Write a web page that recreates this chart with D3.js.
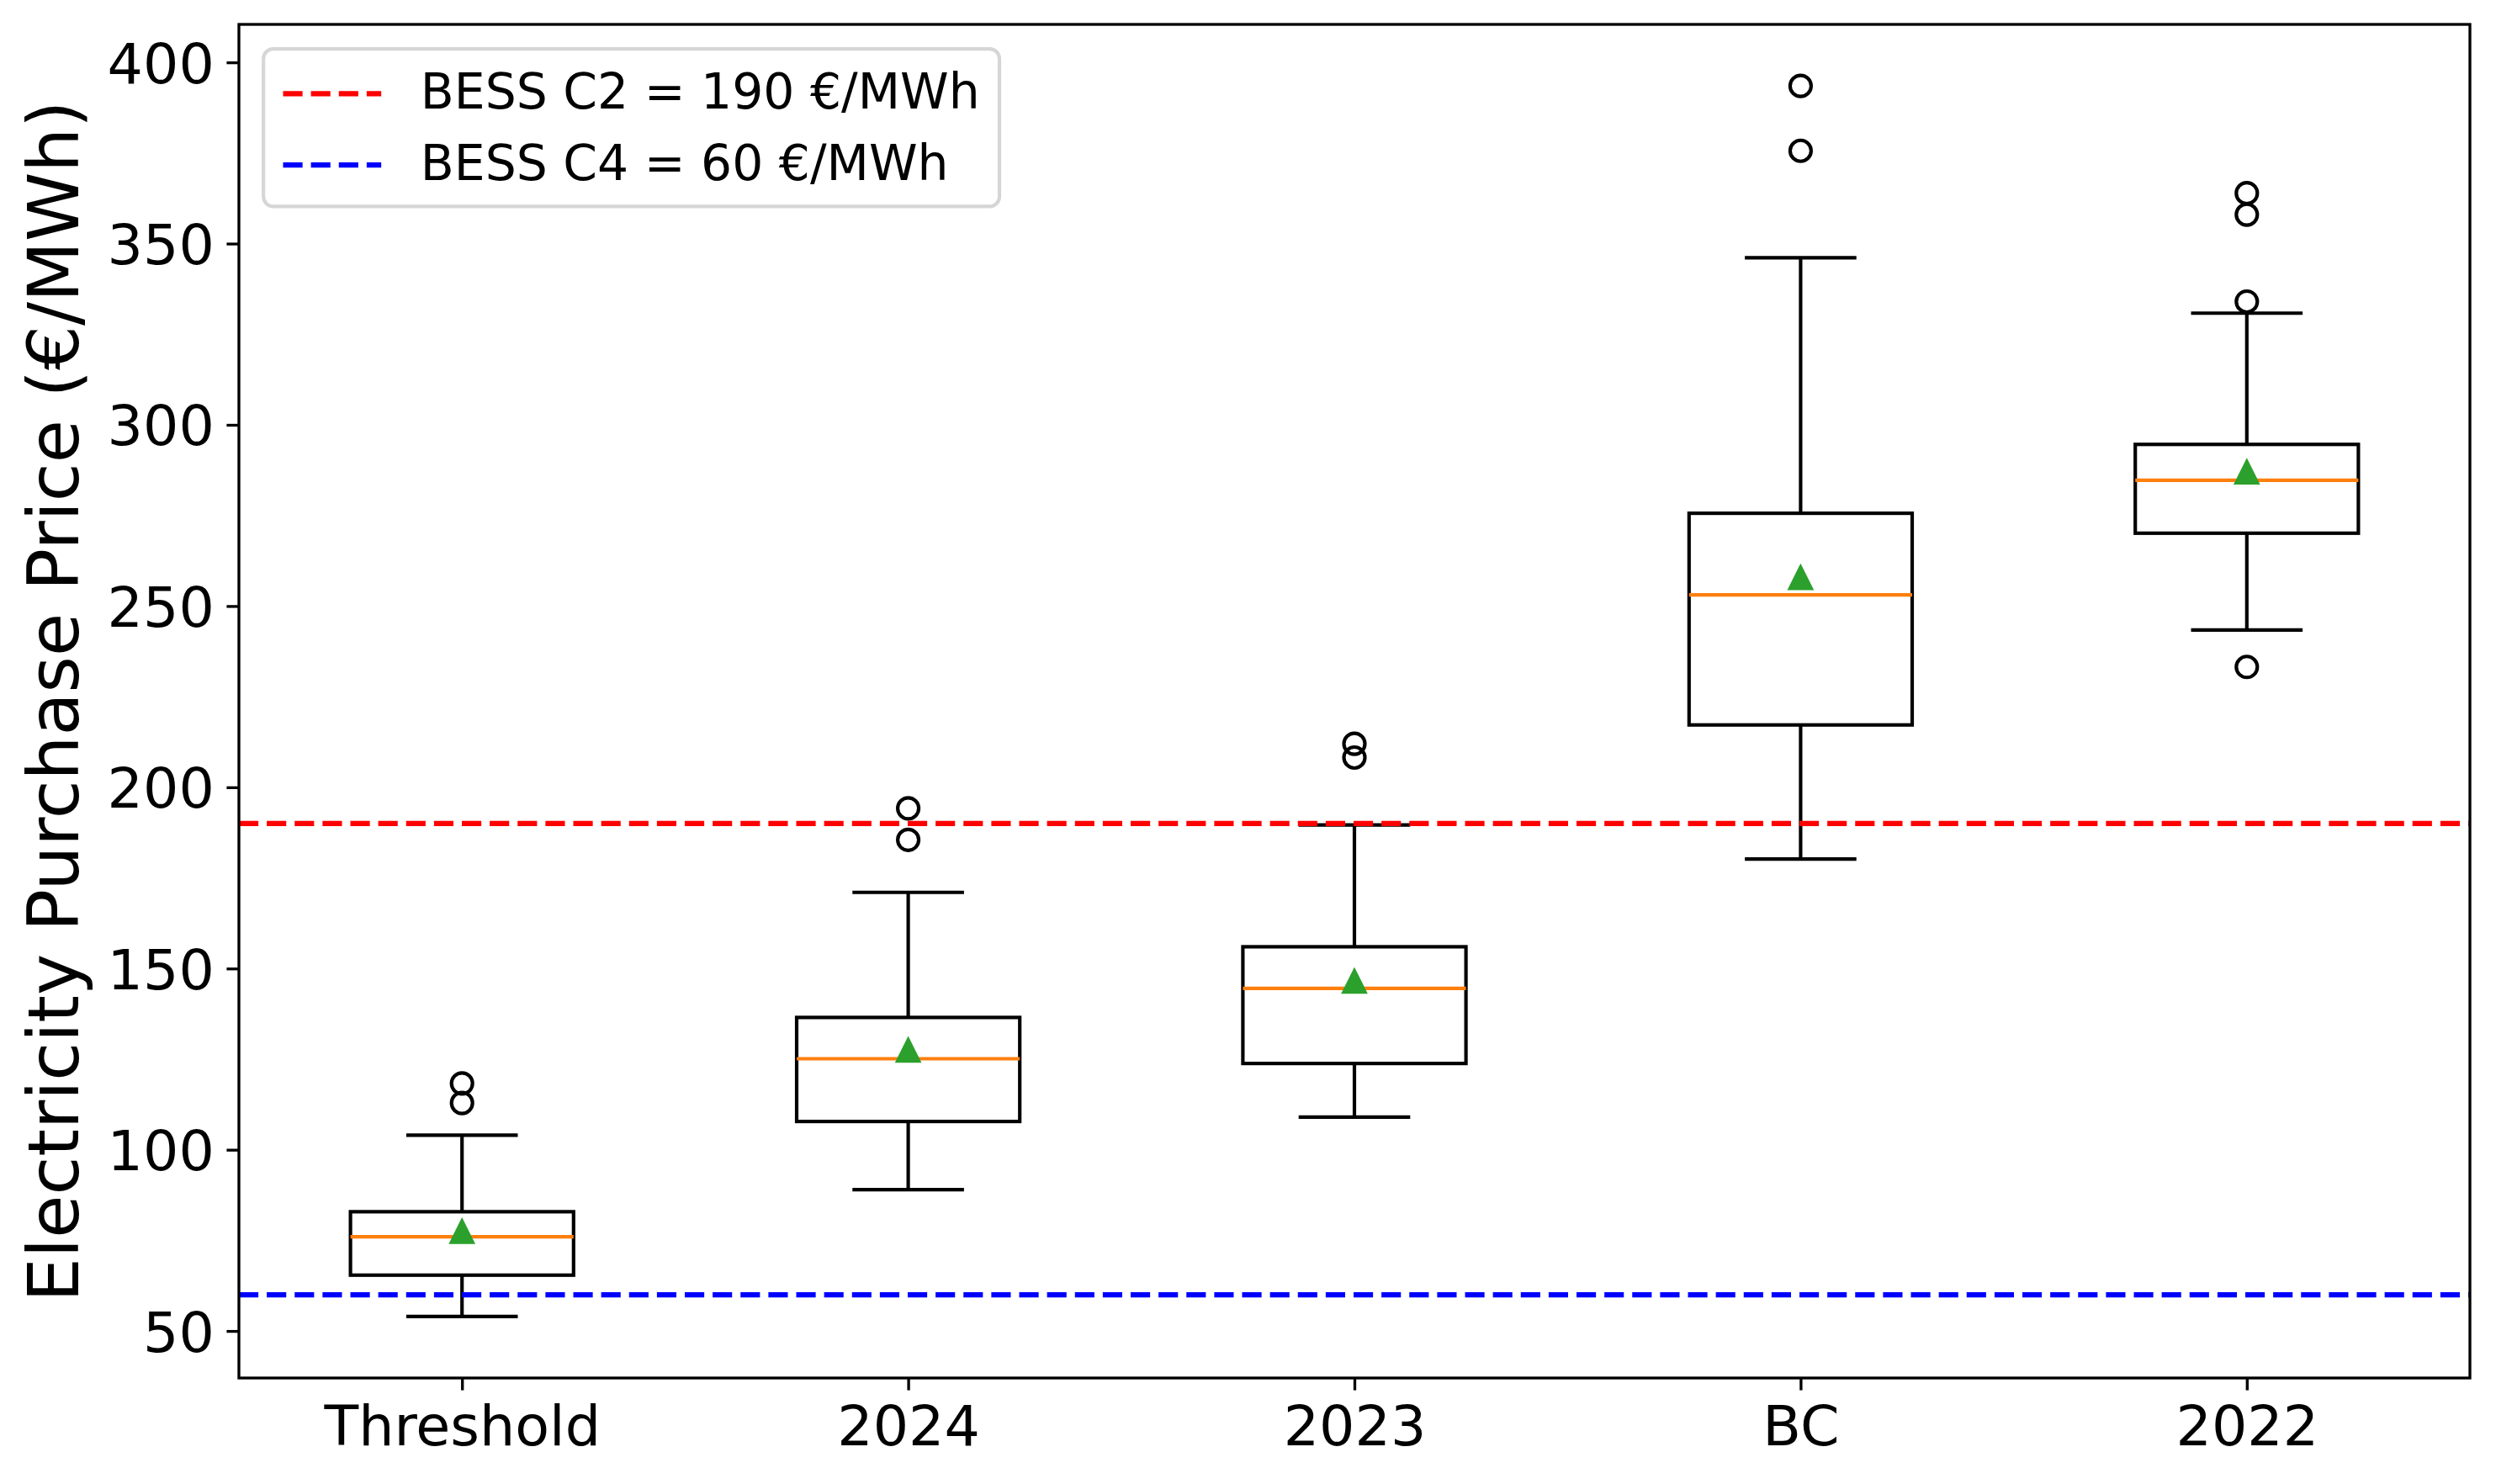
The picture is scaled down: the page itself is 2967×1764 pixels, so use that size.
<!DOCTYPE html>
<html>
<head>
<meta charset="utf-8">
<script src="https://cdn.jsdelivr.net/npm/d3@7"></script>
<style>
  body { margin: 0; background: #fff; }
  svg { display: block; font-family: 'DejaVu Sans', sans-serif; }
</style>
</head>
<body>
<script>
const width = 2967;
const height = 1764;
const margin = { top: 29, right: 31, bottom: 126, left: 284 };

// values
const categories = ['Threshold', '2024', '2023', 'BC', '2022'];
const whiskerLow = [54.0, 89.0, 109.0, 180.2, 243.4];
const q1 = [65.4, 107.8, 123.8, 217.2, 270.1];
const medians = [76.0, 125.1, 144.5, 253.1, 284.7];
const q3 = [82.9, 136.5, 156.0, 275.6, 294.6];
const whiskerHigh = [104.0, 171.0, 189.6, 346.1, 330.8];
const means = [77.4, 127.4, 146.4, 257.8, 286.9];
const outliers = [
  [118.3, 112.9],
  [194.2, 185.5],
  [212.0, 208.2],
  [393.5, 375.6],
  [363.9, 358.0, 334.0, 233.2]
];
const refValues = [190, 60];
const refLabels = ['BESS C2 = 190 €/MWh', 'BESS C4 = 60 €/MWh'];
const yTicks = [50, 100, 150, 200, 250, 300, 350, 400];
const yLabel = 'Electricity Purchase Price (€/MWh)';

const pt = 300 / 72;
const refColors = ['#ff0000', '#0000ff'];

function main() {
  const svg = d3.select('body').append('svg').attr('width', width).attr('height', height);
  svg.append('rect').attr('width', width).attr('height', height).attr('fill', '#fff');

  const x = d3.scalePoint()
    .domain(categories)
    .range([margin.left, width - margin.right])
    .padding(0.5);

  const allValues = whiskerLow.concat(whiskerHigh, outliers.flat());
  const lo = d3.min(allValues);
  const hi = d3.max(allValues);
  const pad = (hi - lo) * 0.05;
  const y = d3.scaleLinear()
    .domain([lo - pad, hi + pad])
    .range([height - margin.bottom, margin.top]);

  const boxes = categories.map((c, i) => ({
    name: c,
    lo: whiskerLow[i], q1: q1[i], med: medians[i], q3: q3[i], hi: whiskerHigh[i],
    mean: means[i], out: outliers[i]
  }));

  drawBoxes(svg, boxes, x, y);
  drawRefLines(svg, x, y);
  drawAxes(svg, x, y);
  drawLegend(svg);
}

function drawBoxes(svg, boxes, x, y) {
  const boxW = x.step() * 0.5;
  const capW = boxW * 0.5;
  const lw = 1 * pt;
  const g = svg.append('g');

  const item = g.selectAll('g.box').data(boxes).enter().append('g').attr('class', 'box');

  // whiskers
  item.append('line')
    .attr('x1', d => x(d.name)).attr('x2', d => x(d.name))
    .attr('y1', d => y(d.q1)).attr('y2', d => y(d.lo))
    .attr('stroke', '#000').attr('stroke-width', lw);
  item.append('line')
    .attr('x1', d => x(d.name)).attr('x2', d => x(d.name))
    .attr('y1', d => y(d.q3)).attr('y2', d => y(d.hi))
    .attr('stroke', '#000').attr('stroke-width', lw);

  // caps
  item.append('line')
    .attr('x1', d => x(d.name) - capW / 2).attr('x2', d => x(d.name) + capW / 2)
    .attr('y1', d => y(d.lo)).attr('y2', d => y(d.lo))
    .attr('stroke', '#000').attr('stroke-width', lw);
  item.append('line')
    .attr('x1', d => x(d.name) - capW / 2).attr('x2', d => x(d.name) + capW / 2)
    .attr('y1', d => y(d.hi)).attr('y2', d => y(d.hi))
    .attr('stroke', '#000').attr('stroke-width', lw);

  // box
  item.append('rect')
    .attr('x', d => x(d.name) - boxW / 2)
    .attr('y', d => y(d.q3))
    .attr('width', boxW)
    .attr('height', d => y(d.q1) - y(d.q3))
    .attr('fill', 'none')
    .attr('stroke', '#000')
    .attr('stroke-width', lw)
    .attr('stroke-linejoin', 'miter');

  // median
  item.append('line')
    .attr('x1', d => x(d.name) - boxW / 2).attr('x2', d => x(d.name) + boxW / 2)
    .attr('y1', d => y(d.med)).attr('y2', d => y(d.med))
    .attr('stroke', '#ff7f0e').attr('stroke-width', lw);

  // fliers
  item.selectAll('circle')
    .data(d => d.out.map(v => ({ name: d.name, v })))
    .enter()
    .append('circle')
    .attr('cx', d => x(d.name))
    .attr('cy', d => y(d.v))
    .attr('r', 3 * pt)
    .attr('fill', 'none')
    .attr('stroke', '#000')
    .attr('stroke-width', lw);

  // means
  const s = 3 * pt;
  item.append('path')
    .attr('d', d => {
      const cx = x(d.name);
      const cy = y(d.mean);
      return `M${cx},${cy - s}L${cx - s},${cy + s}L${cx + s},${cy + s}Z`;
    })
    .attr('fill', '#2ca02c')
    .attr('stroke', '#2ca02c')
    .attr('stroke-width', lw)
    .attr('stroke-linejoin', 'miter');
}

function drawRefLines(svg, x, y) {
  const [x0, x1] = x.range();
  const lw = 1.5 * pt;
  svg.append('g')
    .selectAll('line')
    .data(refValues)
    .enter()
    .append('line')
    .attr('x1', x0).attr('x2', x1)
    .attr('y1', d => y(d)).attr('y2', d => y(d))
    .attr('stroke', (_, i) => refColors[i])
    .attr('stroke-width', lw)
    .attr('stroke-dasharray', `${3.7 * 1.5 * pt},${1.6 * 1.5 * pt}`);
}

function drawAxes(svg, x, y) {
  const tickLen = 3.5 * pt;
  const tickW = 0.8 * pt;
  const fontSize = 16 * pt;
  const [x0, x1] = x.range();
  const [yb, yt] = y.range();

  const yAxis = svg.append('g')
    .attr('transform', `translate(${x0},0)`)
    .call(d3.axisLeft(y).tickValues(yTicks).tickSize(tickLen).tickPadding(tickLen).tickSizeOuter(0));
  yAxis.select('.domain').remove();
  yAxis.selectAll('line').attr('stroke-width', tickW);
  yAxis.selectAll('text').attr('font-size', fontSize).attr('dy', '0.36em').attr('fill', '#000')
    .attr('font-family', 'DejaVu Sans');

  const xAxis = svg.append('g')
    .attr('transform', `translate(0,${yb})`)
    .call(d3.axisBottom(x).tickSize(tickLen).tickPadding(tickLen).tickSizeOuter(0));
  xAxis.select('.domain').remove();
  xAxis.selectAll('line').attr('stroke-width', tickW);
  xAxis.selectAll('text').attr('font-size', fontSize).attr('dy', '0.76em').attr('fill', '#000')
    .attr('font-family', 'DejaVu Sans');

  svg.append('rect')
    .attr('x', x0).attr('y', yt)
    .attr('width', x1 - x0).attr('height', yb - yt)
    .attr('fill', 'none')
    .attr('stroke', '#000')
    .attr('stroke-width', tickW);

  svg.append('text')
    .attr('transform', `translate(93,${(yb + yt) / 2}) rotate(-90)`)
    .attr('text-anchor', 'middle')
    .attr('font-size', 20 * pt)
    .attr('fill', '#000')
    .text(yLabel);
}

function drawLegend(svg) {
  const fs = 14 * pt;
  const left = margin.left + 0.5 * fs;
  const top = margin.top + 0.5 * fs;
  const borderPad = 0.4 * fs;
  const handleLen = 2 * fs;
  const textPad = 0.8 * fs;
  const rowH = 0.955 * fs;
  const rowGap = 0.5 * fs;

  const g = svg.append('g');
  const texts = g.selectAll('text')
    .data(refLabels)
    .enter()
    .append('text')
    .attr('x', left + borderPad + handleLen + textPad)
    .attr('y', (_, i) => top + borderPad + i * (rowH + rowGap) + rowH - 0.26 * fs + 7)
    .attr('font-size', fs)
    .attr('fill', '#000')
    .text(d => d);

  const textW = d3.max(texts.nodes(), n => n.getComputedTextLength());
  const boxW = borderPad * 2 + handleLen + textPad + textW;
  const boxH = borderPad * 2 + refLabels.length * rowH + (refLabels.length - 1) * rowGap;

  g.insert('rect', 'text')
    .attr('x', left).attr('y', top)
    .attr('width', boxW).attr('height', boxH)
    .attr('rx', 0.2 * fs).attr('ry', 0.2 * fs)
    .attr('fill', '#fff').attr('fill-opacity', 0.8)
    .attr('stroke', '#cccccc').attr('stroke-opacity', 0.8)
    .attr('stroke-width', 1 * pt);

  g.selectAll('line')
    .data(refLabels)
    .enter()
    .append('line')
    .attr('x1', left + borderPad)
    .attr('x2', left + borderPad + handleLen)
    .attr('y1', (_, i) => top + borderPad + i * (rowH + rowGap) + rowH / 2 + 2)
    .attr('y2', (_, i) => top + borderPad + i * (rowH + rowGap) + rowH / 2 + 2)
    .attr('stroke', (_, i) => refColors[i])
    .attr('stroke-width', 1.5 * pt)
    .attr('stroke-dasharray', `${3.7 * 1.5 * pt},${1.6 * 1.5 * pt}`);
}

main();
</script>
</body>
</html>
